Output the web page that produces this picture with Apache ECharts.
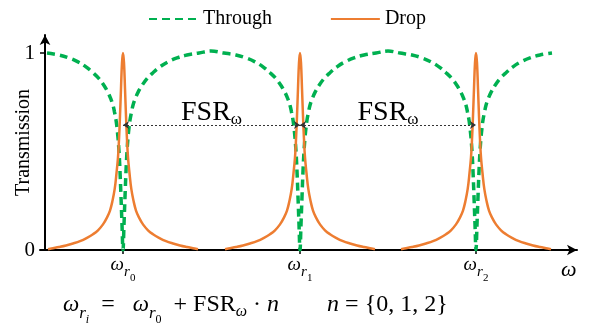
<!DOCTYPE html>
<html>
<head>
<meta charset="utf-8">
<script src="https://cdn.jsdelivr.net/npm/echarts@6/dist/echarts.min.js"></script>
<style>
  html, body { margin: 0; padding: 0; background: #fff; }
  #chart { width: 589px; height: 323px; }
</style>
</head>
<body>
<div id="chart"></div>
<script>
// resonance centres (omega, arbitrary units) and the labels under them
const resonances = [78, 255, 431];
const resonanceLabels = ["0", "1", "2"];
// omega range covered by the through curve
const throughStart = 2;
const throughEnd = 508;
const throughOffset = [0, 1, 2, 3, 4, 5, 6, 7, 8.5, 10, 12, 15, 19, 24, 30, 37, 45, 54, 64, 76, 88];
const throughValue = [0, 0.13, 0.27, 0.4, 0.5, 0.57, 0.62, 0.66, 0.7, 0.735, 0.765, 0.8, 0.835, 0.87, 0.9, 0.93, 0.955, 0.975, 0.99, 1.0, 1.01];
const dropOffset = [0, 1, 2, 3, 4, 5, 6.5, 8.3, 10.5, 13, 16, 20, 25, 30, 36, 43, 50, 57, 64, 70, 75];
const dropValue = [1.0, 0.95, 0.82, 0.68, 0.56, 0.47, 0.39, 0.31, 0.25, 0.2, 0.165, 0.13, 0.1, 0.08, 0.062, 0.045, 0.033, 0.023, 0.015, 0.009, 0.004];
// level of the FSR arrows
const fsrLevel = 0.635;

const serif = "Liberation Serif";

// build the series from the read line shapes
let throughData = [];
resonances.forEach((c, i) => {
  for (let k = throughOffset.length - 1; k > 0; k--) {
    const x = c - throughOffset[k];
    if (x < throughStart) continue;
    if (i > 0 && throughOffset[k] >= 88) continue;
    throughData.push([x, throughValue[k]]);
  }
  for (let k = 0; k < throughOffset.length; k++) {
    const x = c + throughOffset[k];
    if (x > throughEnd) break;
    throughData.push([x, throughValue[k]]);
  }
});

let dropData = [];
resonances.forEach((c, i) => {
  if (i > 0) dropData.push([c - 88, null]);
  for (let k = dropOffset.length - 1; k > 0; k--) dropData.push([c - dropOffset[k], dropValue[k]]);
  for (let k = 0; k < dropOffset.length; k++) dropData.push([c + dropOffset[k], dropValue[k]]);
});

let fsrLines = [];
for (let i = 0; i < resonances.length - 1; i++) {
  fsrLines.push([{ coord: [resonances[i], fsrLevel] }, { coord: [resonances[i + 1], fsrLevel] }]);
}

const subRich = {
  w: { fontFamily: serif, fontStyle: "italic", fontSize: 19, color: "#000" },
  r: { fontFamily: serif, fontStyle: "italic", fontSize: 15, color: "#000", padding: [16, 0, 0, 0] },
  n: { fontFamily: serif, fontSize: 11, color: "#000", padding: [28, 0, 0, 0] }
};

let chart = echarts.init(document.getElementById("chart"));
let option = {
  animation: false,
  title: {
    left: 58,
    top: 279,
    text: "{w|ω}{r|r}{i|i}  =   {w|ω}{r|r}{n|0}  + FSR{o|ω} · {m|n}        {m|n} = {0, 1, 2}",
    textStyle: {
      fontFamily: serif,
      fontSize: 24,
      fontWeight: "normal",
      color: "#000",
      rich: {
        w: { fontFamily: serif, fontStyle: "italic", fontSize: 23, color: "#000" },
        m: { fontFamily: serif, fontStyle: "italic", fontSize: 24, color: "#000" },
        r: { fontFamily: serif, fontStyle: "italic", fontSize: 17, color: "#000", padding: [18, 0, 0, 0] },
        i: { fontFamily: serif, fontStyle: "italic", fontSize: 12, color: "#000", padding: [30, 0, 0, 0] },
        n: { fontFamily: serif, fontSize: 12, color: "#000", padding: [30, 0, 0, 0] },
        o: { fontFamily: serif, fontStyle: "italic", fontSize: 16, color: "#000", padding: [14, 0, 0, 0] }
      }
    }
  },
  legend: {
    left: 143,
    top: 4,
    itemWidth: 49,
    itemHeight: 12,
    itemGap: 58,
    itemStyle: { color: "transparent", borderColor: "transparent", borderWidth: 0 },
    textStyle: { fontFamily: serif, fontSize: 20, color: "#000" },
    data: ["Through", "Drop"]
  },
  grid: { left: 40, right: 12, top: 35, bottom: 73, containLabel: false, outerBoundsMode: "none" },
  xAxis: {
    type: "value",
    min: -5,
    max: 532,
    name: "ω",
    nameLocation: "end",
    nameGap: -16,
    nameMoveOverlap: false,
    nameTextStyle: { fontFamily: serif, fontStyle: "italic", fontSize: 22, color: "#000", verticalAlign: "top", padding: [9, 0, 0, 0] },
    axisLine: { onZero: false, symbol: ["none", "arrow"], symbolSize: [8, 10], lineStyle: { color: "#000", width: 2 } },
    axisTick: { show: true, length: 4, customValues: resonances, lineStyle: { color: "#000", width: 1.5 } },
    axisLabel: {
      customValues: resonances,
      margin: -5,
      formatter: (v) => "{w|ω}{r|r}{n|" + resonanceLabels[resonances.indexOf(v)] + "}",
      rich: subRich
    },
    splitLine: { show: false }
  },
  yAxis: {
    type: "value",
    min: 0,
    max: 1.0914,
    name: "Transmission",
    nameLocation: "middle",
    nameGap: 6,
    nameMoveOverlap: false,
    nameTextStyle: { fontFamily: serif, fontSize: 20, color: "#000" },
    axisLine: { onZero: true, symbol: ["none", "arrow"], symbolSize: [8, 10], lineStyle: { color: "#000", width: 2 } },
    axisTick: { show: true, length: 5, customValues: [0, 1], lineStyle: { color: "#000", width: 1.5 } },
    axisLabel: { customValues: [0, 1], margin: 5, fontFamily: serif, fontSize: 21, color: "#000" },
    splitLine: { show: false }
  },
  series: [
    {
      name: "Through",
      type: "line",
      data: throughData,
      symbol: "none",
      smooth: 0.4,
      itemStyle: { color: "#00B050" },
      lineStyle: { color: "#00B050", width: 3.5, type: [8, 5] }
    },
    {
      name: "Drop",
      type: "line",
      data: dropData,
      symbol: "none",
      smooth: 0.4,
      connectNulls: false,
      itemStyle: { color: "#ED7D31" },
      lineStyle: { color: "#ED7D31", width: 2.5 },
      markLine: {
        silent: true,
        symbol: ["arrow", "arrow"],
        symbolSize: [6, 6],
        lineStyle: { color: "#333", width: 1, type: [2, 2] },
        label: {
          show: true,
          position: "middle",
          distance: -3,
          formatter: "{a|FSR}{b|ω}",
          rich: {
            a: { fontFamily: serif, fontSize: 28, color: "#000" },
            b: { fontFamily: serif, fontSize: 17, color: "#000", padding: [14, 0, 0, 0] }
          }
        },
        emphasis: { disabled: true },
        data: fsrLines
      }
    }
  ]
};
chart.setOption(option);
window.addEventListener("resize", () => chart.resize(), false);
</script>
</body>
</html>
